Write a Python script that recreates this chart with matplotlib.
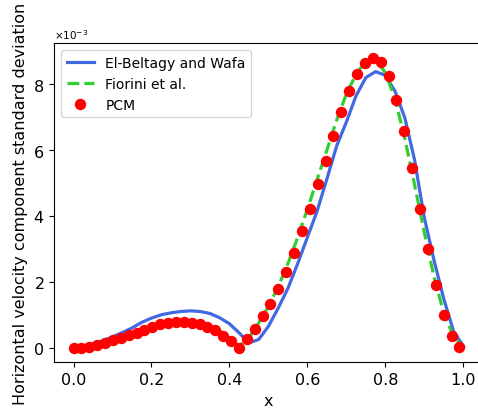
import matplotlib
matplotlib.use("Agg")
import matplotlib.pyplot as plt
import numpy as np

# El-Beltagy and Wafa (units of 1e-3)
x_ew = [0.0, 0.025, 0.05, 0.075, 0.1, 0.125, 0.15, 0.175, 0.2, 0.225, 0.25,
        0.275, 0.3, 0.325, 0.35, 0.375, 0.4, 0.425, 0.45, 0.475, 0.5,
        0.525, 0.55, 0.575, 0.6, 0.625, 0.65, 0.675, 0.7, 0.725, 0.75,
        0.775, 0.8, 0.825, 0.85, 0.875, 0.9, 0.925, 0.95, 0.975, 1.0]
y_ew = [0.0, 0.05, 0.12, 0.22, 0.33, 0.46, 0.60, 0.77, 0.90, 1.00, 1.06,
        1.10, 1.12, 1.10, 1.04, 0.91, 0.73, 0.45, 0.15, 0.25, 0.65,
        1.20, 1.80, 2.55, 3.35, 4.15, 5.12, 6.12, 6.85, 7.65, 8.20,
        8.38, 8.27, 7.78, 6.98, 5.70, 3.95, 2.65, 1.48, 0.50, 0.05]

# Fiorini et al.
x_fio = x_ew
y_fio = [0.0, 0.0, 0.04, 0.10, 0.19, 0.29, 0.39, 0.49, 0.60, 0.69, 0.75,
         0.78, 0.78, 0.74, 0.66, 0.52, 0.30, 0.05, 0.30, 0.75, 1.25,
         1.85, 2.55, 3.35, 4.20, 5.10, 6.00, 6.90, 7.70, 8.30, 8.70,
         8.75, 8.35, 7.55, 6.35, 4.95, 3.50, 2.15, 1.05, 0.35, 0.0]

# PCM, 50 evenly spaced points
x_pcm = np.linspace(0.0, 0.99, 50)
y_pcm = [0.00, 0.00, 0.03, 0.08, 0.15, 0.23, 0.30, 0.38, 0.46, 0.55,
         0.64, 0.71, 0.75, 0.78, 0.78, 0.76, 0.71, 0.64, 0.53, 0.37,
         0.20, 0.00, 0.27, 0.58, 0.95, 1.34, 1.79, 2.31, 2.89, 3.53,
         4.22, 4.96, 5.68, 6.42, 7.15, 7.79, 8.31, 8.65, 8.80, 8.67,
         8.24, 7.53, 6.58, 5.45, 4.22, 3.00, 1.89, 0.98, 0.35, 0.02]

scale = 1e-3

fig = plt.figure(figsize=(4.78, 4.10), dpi=100)
# axes run slightly past the right edge, as in the cropped original
ax = fig.add_axes([0.113, 0.114, 0.897, 0.778])

ax.plot(x_ew, np.array(y_ew) * scale, color="royalblue", lw=2.3,
        label="El-Beltagy and Wafa")
ax.plot(x_fio, np.array(y_fio) * scale, color="limegreen", lw=2.3,
        ls=(0, (3.7, 1.6)), label="Fiorini et al.")
ax.plot(x_pcm, np.array(y_pcm) * scale, "o", color="red", ms=7.2,
        label="PCM")

ax.set_xlabel("x", fontsize=11.5)
ax.set_ylabel("Horizontal velocity component standard deviation", fontsize=11.5)
ax.ticklabel_format(axis="y", style="sci", scilimits=(0, 0), useMathText=True)
ax.tick_params(labelsize=11.5)
ax.yaxis.get_offset_text().set_fontsize(7.5)
ax.set_xticks([0.0, 0.2, 0.4, 0.6, 0.8, 1.0])
ax.spines["right"].set_visible(False)
ax.legend(loc="upper left", fontsize=10)

fig.savefig("out.png", dpi=100)
